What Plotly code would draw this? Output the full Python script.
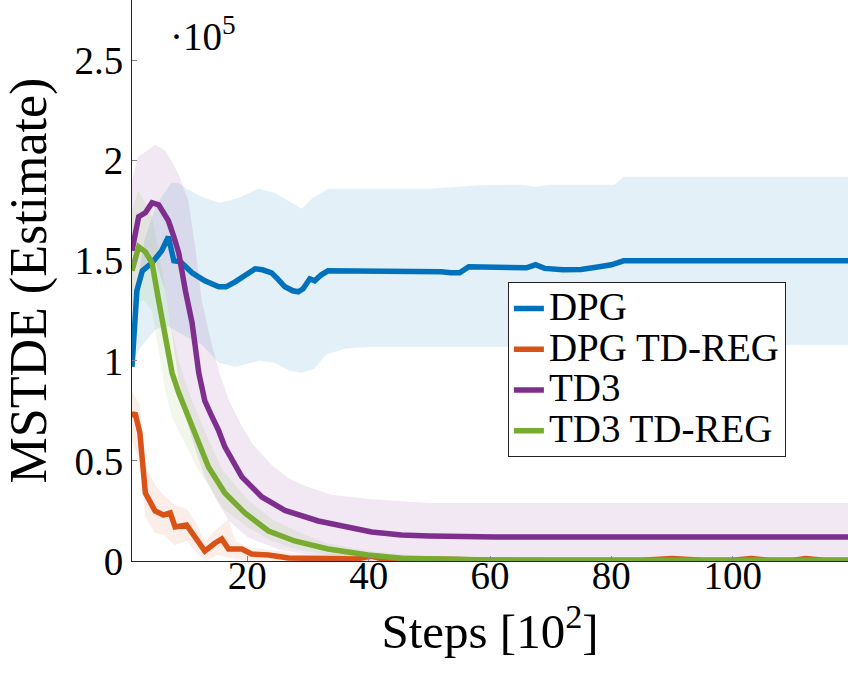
import plotly.graph_objects as go

# ---------------- data (values in units of 1e5) ----------------
dpg_x = [1, 1.8, 2.7, 4.3, 5.9, 7.0, 7.9, 9, 10.9, 13, 15.3, 16.5, 18, 20, 21.3, 22.5, 24, 25, 26.2,
         27.5, 28.4, 29.2, 30.3, 31.1, 32.2, 33.3, 37, 45, 52, 53.5, 55, 56.5, 60, 66, 67.5, 69, 72,
         75, 78, 80, 82, 90, 100, 110, 119]
dpg_y = [0.97, 1.35, 1.45, 1.49, 1.55, 1.62, 1.50, 1.495, 1.44, 1.40, 1.37, 1.37, 1.395, 1.43, 1.46,
         1.455, 1.44, 1.41, 1.37, 1.35, 1.345, 1.36, 1.41, 1.40, 1.43, 1.45, 1.45, 1.445, 1.445, 1.44,
         1.44, 1.47, 1.47, 1.465, 1.48, 1.462, 1.455, 1.457, 1.47, 1.48, 1.50, 1.50, 1.50, 1.50, 1.50]
dpg_up_x = [1, 2, 3, 5, 7.5, 8.7, 10, 12.5, 15.3, 17, 19, 21.8, 24.5, 27.3, 29, 30.6, 33.3, 40, 50,
            55, 58, 65, 67.5, 70, 75, 80.5, 82, 90, 100, 110, 119]
dpg_up_y = [1.05, 1.40, 1.60, 1.78, 1.89, 1.887, 1.86, 1.82, 1.79, 1.80, 1.82, 1.86, 1.84, 1.79, 1.76,
            1.81, 1.86, 1.86, 1.86, 1.87, 1.878, 1.88, 1.87, 1.88, 1.88, 1.88, 1.92, 1.92, 1.92, 1.92, 1.92]
dpg_lo_x = [1, 2.5, 5, 7, 10, 12.5, 15.3, 18, 22, 24.5, 27, 29, 31, 33, 36, 40, 50, 60, 70, 80, 90,
            100, 110, 119]
dpg_lo_y = [1.0, 1.07, 1.16, 1.17, 1.12, 1.08, 0.99, 0.97, 1.0, 0.99, 0.95, 0.94, 0.96, 1.03, 1.06,
            1.07, 1.07, 1.07, 1.07, 1.08, 1.08, 1.08, 1.08, 1.08]

reg_x = [1, 1.5, 2.3, 3.2, 4.8, 6.2, 7.3, 8.1, 10, 11.4, 13, 14.7, 15.8, 16.9, 19.1, 20.7, 23.5, 26.8,
         31, 35, 38, 40.5, 42, 45, 50, 55, 60, 65, 70, 72, 74, 80, 85, 90, 95, 100, 103, 106, 110,
         112, 115, 119]
reg_y = [0.72, 0.74, 0.64, 0.34, 0.25, 0.23, 0.24, 0.17, 0.18, 0.12, 0.05, 0.09, 0.11, 0.06, 0.06,
         0.035, 0.03, 0.015, 0.015, 0.01, 0.01, 0.025, 0.012, 0.012, 0.012, 0.008, 0.004, 0.004,
         0.004, 0.01, 0.004, 0.004, 0.004, 0.012, 0.004, 0.004, 0.012, 0.004, 0.004, 0.012, 0.004, 0.004]
reg_up_x = [1, 2.3, 3.2, 4.8, 6.2, 8, 10, 11.4, 13, 15, 16.9, 18, 20, 25, 30, 40, 45, 50, 60, 119]
reg_up_y = [0.85, 0.78, 0.48, 0.38, 0.33, 0.28, 0.26, 0.20, 0.10, 0.16, 0.21, 0.10, 0.07, 0.05, 0.03,
            0.04, 0.025, 0.02, 0.01, 0.01]
reg_lo_x = [1, 2.3, 3.2, 4.8, 6.2, 8, 10, 11.4, 13, 15, 17, 20, 119]
reg_lo_y = [0.60, 0.50, 0.22, 0.14, 0.13, 0.08, 0.10, 0.05, 0.0, 0.03, 0.02, 0.0, 0.0]

td3_x = [1, 2.1, 3.2, 4.3, 5.4, 7.0, 7.9, 8.7, 9.8, 10.9, 12, 13, 14.2, 15.3, 16.3, 19.1, 22.4, 26.2,
         31.7, 37.2, 39.9, 40.5, 45.4, 50, 61, 80, 100, 119]
td3_y = [1.55, 1.72, 1.74, 1.79, 1.78, 1.70, 1.62, 1.54, 1.35, 1.19, 0.94, 0.80, 0.72, 0.65, 0.57,
         0.42, 0.32, 0.253, 0.20, 0.163, 0.15, 0.145, 0.13, 0.125, 0.12, 0.12, 0.12, 0.12]
td3_up_x = [1, 2, 3, 4.8, 6.5, 7.5, 8.7, 10.3, 11.5, 12.5, 14, 15.3, 17, 19, 21, 24, 27, 30, 34, 40,
            50, 60, 80, 100, 119]
td3_up_y = [1.90, 2.02, 2.04, 2.08, 2.05, 2.00, 1.93, 1.80, 1.55, 1.30, 1.10, 0.95, 0.80, 0.68, 0.58,
            0.48, 0.41, 0.37, 0.33, 0.31, 0.29, 0.29, 0.29, 0.29, 0.29]
td3_lo_x = [1, 2, 3, 4.8, 6.5, 7.5, 8.7, 10, 11.5, 13, 15, 17, 20, 25, 30, 40, 119]
td3_lo_y = [1.25, 1.42, 1.45, 1.50, 1.35, 1.15, 0.90, 0.70, 0.55, 0.42, 0.30, 0.20, 0.12, 0.06, 0.03,
            0.0, 0.0]

tdr_x = [1, 2.1, 3.2, 4.3, 5.4, 6.5, 7.6, 8.7, 10.3, 12, 13.6, 16.3, 19.6, 23.5, 27.8, 33.3, 39.9,
         45.4, 50, 55, 60, 70, 80, 90, 100, 110, 119]
tdr_y = [1.45, 1.57, 1.545, 1.49, 1.30, 1.10, 0.94, 0.84, 0.72, 0.60, 0.47, 0.34, 0.24, 0.15, 0.10,
         0.06, 0.03, 0.014, 0.01, 0.007, 0.005, 0.004, 0.004, 0.004, 0.004, 0.004, 0.004]
tdr_up_x = [1, 2, 3, 4.3, 5.4, 6.5, 7.6, 8.7, 10.3, 12, 14, 16, 20, 24, 28, 33, 40, 50, 60, 119]
tdr_up_y = [1.75, 1.85, 1.80, 1.72, 1.55, 1.35, 1.15, 1.00, 0.85, 0.72, 0.58, 0.45, 0.31, 0.21, 0.15,
            0.09, 0.05, 0.02, 0.01, 0.01]
tdr_lo_x = [1, 2, 3, 4.3, 5.4, 6.5, 7.6, 8.7, 10.3, 12, 14, 16, 20, 24, 28, 33, 40, 50, 119]
tdr_lo_y = [1.20, 1.30, 1.30, 1.25, 1.05, 0.85, 0.72, 0.65, 0.55, 0.45, 0.36, 0.26, 0.17, 0.10, 0.06,
            0.03, 0.01, 0.0, 0.0]

names = ["DPG", "DPG TD-REG", "TD3", "TD3 TD-REG"]
colors = ["#0072BD", "#D95319", "#7E2F8E", "#77AC30"]
bands = ["rgba(0,114,189,0.11)", "rgba(217,83,25,0.10)", "rgba(126,47,142,0.11)", "rgba(119,172,48,0.10)"]

x_ticks = [20, 40, 60, 80, 100]
y_ticks = [0, 0.5, 1, 1.5, 2, 2.5]
y_ticktext = ["0", "0.5", "1", "1.5", "2", "2.5"]

series = [
    (dpg_x, dpg_y, dpg_up_x, dpg_up_y, dpg_lo_x, dpg_lo_y),
    (reg_x, reg_y, reg_up_x, reg_up_y, reg_lo_x, reg_lo_y),
    (td3_x, td3_y, td3_up_x, td3_up_y, td3_lo_x, td3_lo_y),
    (tdr_x, tdr_y, tdr_up_x, tdr_up_y, tdr_lo_x, tdr_lo_y),
]

FONT = "'Liberation Serif', 'Times New Roman', 'DejaVu Serif', serif"
fig = go.Figure()

for (mx, my, ux, uy, lx, ly), band in zip(series, bands):
    fig.add_trace(go.Scatter(
        x=list(ux) + list(lx)[::-1], y=list(uy) + list(ly)[::-1],
        fill="toself", fillcolor=band, mode="lines", line=dict(width=0),
        showlegend=False, hoverinfo="skip"))

for (mx, my, ux, uy, lx, ly), name, c in zip(series, names, colors):
    fig.add_trace(go.Scatter(
        x=mx, y=my, mode="lines", line=dict(color=c, width=5.5),
        name='<span style="font-size:39px">' + name + '</span>'))

fig.update_layout(
    width=848, height=678,
    margin=dict(l=132, r=0, t=0, b=117),
    plot_bgcolor="white", paper_bgcolor="white",
    font=dict(family=FONT, color="black"),
    showlegend=True,
    legend=dict(x=0.525, y=0.497, xanchor="left", yanchor="top",
                bgcolor="white", bordercolor="#222", borderwidth=1,
                font=dict(family=FONT, size=29, color="black"),
                itemwidth=30, tracegroupgap=0),
    xaxis=dict(range=[1, 119], tickvals=x_ticks, showgrid=False, zeroline=False,
               showline=True, linecolor="#222", linewidth=1,
               ticks="inside", ticklen=5, tickcolor="#888", tickwidth=1,
               tickfont=dict(family=FONT, size=39), ticklabelstandoff=-20,
               title=dict(text="Steps [10<sup>2</sup>]", font=dict(family=FONT, size=49), standoff=7)),
    yaxis=dict(range=[0, 2.803], tickvals=y_ticks, ticktext=y_ticktext, showgrid=False, zeroline=False,
               showline=True, linecolor="#222", linewidth=1,
               ticks="inside", ticklen=5, tickcolor="#888", tickwidth=1,
               tickfont=dict(family=FONT, size=39),
               title=dict(text="MSTDE (Estimate)", font=dict(family=FONT, size=52), standoff=11)),
)

fig.add_annotation(xref="paper", yref="paper", x=0.05, y=0.94, xanchor="left", yanchor="middle",
                   text="·10<sup>5</sup>", showarrow=False, font=dict(family=FONT, size=39))

fig.write_html("out.html")
